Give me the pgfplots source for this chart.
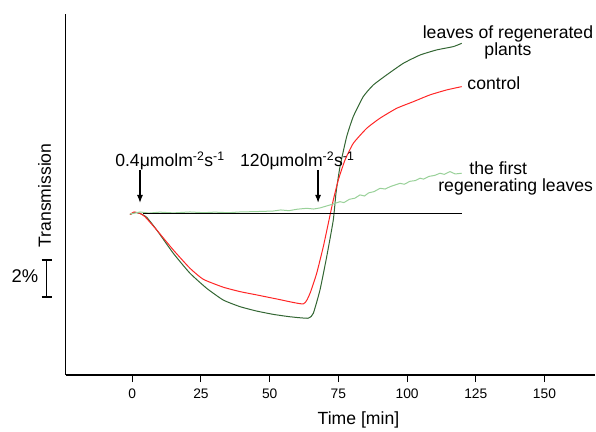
\documentclass[border=0pt]{standalone}
\usepackage{fontspec}
\setmainfont{Liberation Sans}
\usepackage{pgfplots}
\pgfplotsset{compat=1.18}
\usetikzlibrary{arrows.meta}

\definecolor{dkgreen}{rgb}{0.20,0.40,0.20}
\definecolor{ltgreen}{rgb}{0.60,0.82,0.60}
\definecolor{ctrlred}{rgb}{1.00,0.15,0.15}

\newcommand{\lbl}{\fontsize{17.6}{15}\selectfont}

\begin{document}
\begin{tikzpicture}
\begin{axis}[
    scale only axis,
    width=529.3pt, height=361pt,
    xmin=-24.24, xmax=168.4,
    ymin=-8.774, ymax=10.90,
    axis x line=bottom, axis y line=left,
    axis line style={-, line width=1.2pt},
    xtick={0,25,50,75,100,125,150},
    ytick=\empty,
    tick align=outside,
    major tick length=7pt,
    tick style={black, line width=1pt},
    xticklabel style={font=\fontsize{13.8}{15}\selectfont, yshift=-3pt},
    /pgf/number format/assume math mode=true,
    clip=false,
]
% leaves of regenerated plants
\addplot[dkgreen, line width=1pt, smooth, tension=0.3] coordinates {
  (-0.84,-0.03) (0.98,0.08) (2.80,0.03) (5.24,-0.18) (8.88,-0.87)
  (14.92,-2.14) (21.0,-3.23) (27.07,-4.05) (33.11,-4.69) (39.19,-5.05)
  (45.27,-5.29) (51.31,-5.47) (57.39,-5.60) (64.05,-5.68) (65.87,-5.41)
  (68.30,-4.14) (70.74,-2.33) (73.14,-0.33) (74.13,1.14) (75.58,2.58)
  (78.02,4.22) (80.42,5.31) (84.06,6.40) (87.70,7.03) (92.58,7.58)
  (98.62,8.21) (104.69,8.66) (110.77,8.94) (116.81,9.12) (119.87,9.30)
};
% control
\addplot[ctrlred, line width=1pt, smooth, tension=0.3] coordinates {
  (-0.84,-0.03) (0.62,0.11) (2.80,0.03) (4.62,-0.15) (8.88,-0.87)
  (14.92,-1.96) (21.0,-2.96) (25.84,-3.56) (33.11,-3.99) (39.19,-4.23)
  (45.27,-4.41) (52.55,-4.63) (62.23,-4.90) (64.67,-4.32) (67.10,-3.23)
  (69.51,-1.78) (71.58,-0.33) (73.14,0.76) (74.96,1.85) (77.40,2.94)
  (80.42,3.85) (85.30,4.67) (90.14,5.22) (96.22,5.76) (102.26,6.12)
  (108.33,6.49) (114.41,6.76) (119.87,6.94)
};
% the first regenerating leaves
\addplot[ltgreen, line width=1pt] coordinates {
  (-0.84,0) (2.80,0.11) (6,0.05) (10,0.10) (15,0.06) (21.0,0.11) (26,0.07)
  (30,0.10) (35,0.07) (39.19,0.11) (45,0.13) (51.2,0.16) (54,0.22)
  (57,0.18) (60,0.26) (63.46,0.31) (66,0.27) (68.30,0.33) (71.94,0.49)
  (75.58,0.67) (77,0.62) (79,0.80) (81,0.86) (82.86,1.04) (84.5,0.98)
  (86,1.15) (88,1.22) (90.14,1.40) (92,1.36) (94,1.50) (97.42,1.67)
  (99,1.62) (101,1.78) (103,1.82) (104.69,1.95) (106,1.90) (108,2.05)
  (110,2.10) (111.97,2.22) (113.5,2.16) (115.61,2.31) (117.5,2.18) (119.87,2.22)
};
% baseline
\addplot[black, line width=1pt] coordinates {(3.89,0) (120,0)};

% light-on arrows
\draw[line width=1.2pt, -{Latex[length=8pt,width=6pt]}] (axis cs:2.8,2.40) -- (axis cs:2.8,0.60);
\draw[line width=1.2pt, -{Latex[length=8pt,width=6pt]}] (axis cs:67.6,2.40) -- (axis cs:67.6,0.60);
\node[anchor=base west, inner sep=0pt, font=\lbl] at (axis cs:-6.26,2.58) {0.4μmolm\textsuperscript{-2}s\textsuperscript{-1}};
\node[anchor=base west, inner sep=0pt, font=\lbl] at (axis cs:39.19,2.58) {120μmolm\textsuperscript{-2}s\textsuperscript{-1}};

% series labels
\node[anchor=north, inner sep=0pt, font=\lbl, align=center] at (axis cs:136.7,10.27) {leaves of regenerated\\plants};
\node[anchor=base west, inner sep=0pt, font=\lbl] at (axis cs:121.9,6.80) {control};
\node[anchor=base west, inner sep=0pt, font=\lbl] at (axis cs:122.6,2.13) {the first};
\node[anchor=base west, inner sep=0pt, font=\lbl] at (axis cs:111.3,1.22) {regenerating leaves};

% y scale bar
\draw[line width=1.6pt] (axis cs:-32.97,-2.51) -- (axis cs:-29.33,-2.51);
\draw[line width=1.6pt] (axis cs:-31.15,-2.51) -- (axis cs:-31.15,-4.51);
\draw[line width=1.6pt] (axis cs:-32.97,-4.51) -- (axis cs:-29.33,-4.51);
\node[font=\fontsize{18.4}{18}\selectfont] at (axis cs:-39.05,-3.41) {2\%};
\node[font=\lbl, rotate=90] at (axis cs:-31.95,1.01) {Transmission};

% x label
\node[font=\lbl] at (axis cs:82.3,-11.23) {Time [min]};

% page frame
\path (axis cs:-48.14,11.66) rectangle (axis cs:168.74,-11.55);
\end{axis}
\end{tikzpicture}
\end{document}
